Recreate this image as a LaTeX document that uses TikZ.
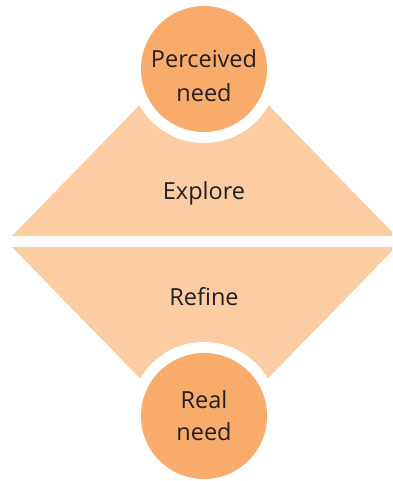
\documentclass[tikz,border=0pt]{standalone}
\usepackage{fontspec}
\setmainfont{Open Sans}
\usepackage{xcolor}
\definecolor{needorange}{HTML}{F9AB6C}
\definecolor{stagepeach}{HTML}{FCCDA3}
\definecolor{labelgray}{HTML}{231F20}
\tikzset{label text/.style={anchor=base,inner sep=0pt,text=labelgray,font=\fontsize{23.5}{34}\selectfont}}

\begin{document}
\begin{tikzpicture}[x=1pt,y=-1pt]
  \useasboundingbox (0,0) rectangle (392,481);
  \clip (0,0) rectangle (392,481);
  % the two stages
  \path[fill=stagepeach] (12,236) -- (396,236) -- (204,39) -- cycle;
  \path[fill=stagepeach] (12,247) -- (396,247) -- (204,444) -- cycle;
  % white rings and the needs
  \path[fill=white] (204,69) circle (74);
  \path[fill=white] (204,416) circle (74);
  \path[fill=needorange] (204,69) circle (63);
  \path[fill=needorange] (204,416) circle (63);
  % texts
  \node[label text] (perceived) at (204,68) {Perceived};
  \node[label text] (perceivedneed) at (204,102) {need};
  \node[label text] (explore) at (204,199) {Explore};
  \node[label text] (refine) at (204,305) {Refine};
  \node[label text] (real) at (204,408) {Real};
  \node[label text] (realneed) at (204,440) {need};
\end{tikzpicture}
\end{document}
